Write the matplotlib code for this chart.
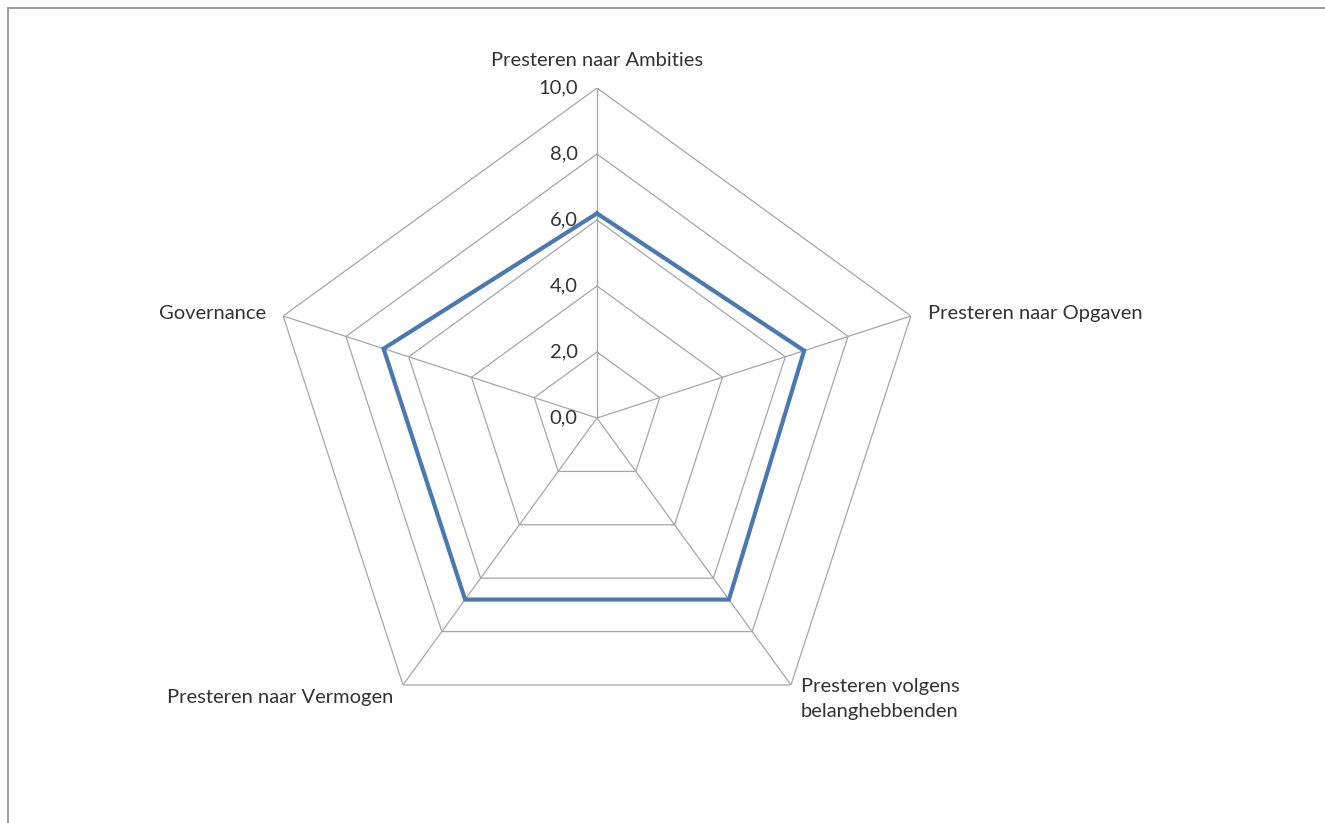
import numpy as np
import matplotlib.pyplot as plt
from matplotlib.patches import Rectangle

plt.rcParams['font.family'] = ['Lato', 'DejaVu Sans']

categories = ["Presteren naar Ambities", "Presteren naar Opgaven",
              "Presteren volgens\nbelanghebbenden", "Presteren naar Vermogen",
              "Governance"]
values = [6.2, 6.6, 6.8, 6.8, 6.8]
rings = [0, 2, 4, 6, 8, 10]
ring_labels = ["0,0", "2,0", "4,0", "6,0", "8,0", "10,0"]

fig = plt.figure(figsize=(13.25, 8.23), dpi=100)
fig.patches.append(Rectangle((8 / 1325, -0.1), 1.2, 1 - 8 / 823 + 0.1,
                             transform=fig.transFigure, fill=False,
                             edgecolor='#8c8c8c', linewidth=1.2))

cx, cy, r = 597 / 1325, 1 - 418 / 823, 330
ax = fig.add_axes([cx - r / 1325, cy - r / 823, 2 * r / 1325, 2 * r / 823],
                  projection='polar')
ax.set_theta_offset(np.pi / 2)
ax.set_theta_direction(-1)
ax.set_ylim(0, 10)
ax.axis('off')

n = len(categories)
theta = np.arange(n) * 2 * np.pi / n
closed = np.append(theta, theta[0])

grid_col = '#a6a6a6'
for g in rings[1:]:
    ax.plot(closed, [g] * (n + 1), color=grid_col, lw=0.9, zorder=1)
for t in theta:
    ax.plot([t, t], [0, 10], color=grid_col, lw=0.9, zorder=1)

ax.plot(closed, values + values[:1], color='#4a78b0', lw=3.0, zorder=3,
        solid_joinstyle='miter')

fs = 14.5
for g, lab in zip(rings, ring_labels):
    ax.annotate(lab, (0, g), xytext=(-14, 0), textcoords='offset points',
                ha='right', va='center', fontsize=fs, color='#333333')

offsets = [((0, 20), 'center', 'center'),
           ((12, 2), 'left', 'center'),
           ((7, 5), 'left', 'top'),
           ((-7, -3), 'right', 'top'),
           ((-12, 2), 'right', 'center')]
for t, lab, (off, ha, va) in zip(theta, categories, offsets):
    ax.annotate(lab, (t, 10), xytext=off, textcoords='offset points',
                ha=ha, va=va, fontsize=fs, color='#333333',
                linespacing=1.6)

fig.savefig('out.png', dpi=100)
